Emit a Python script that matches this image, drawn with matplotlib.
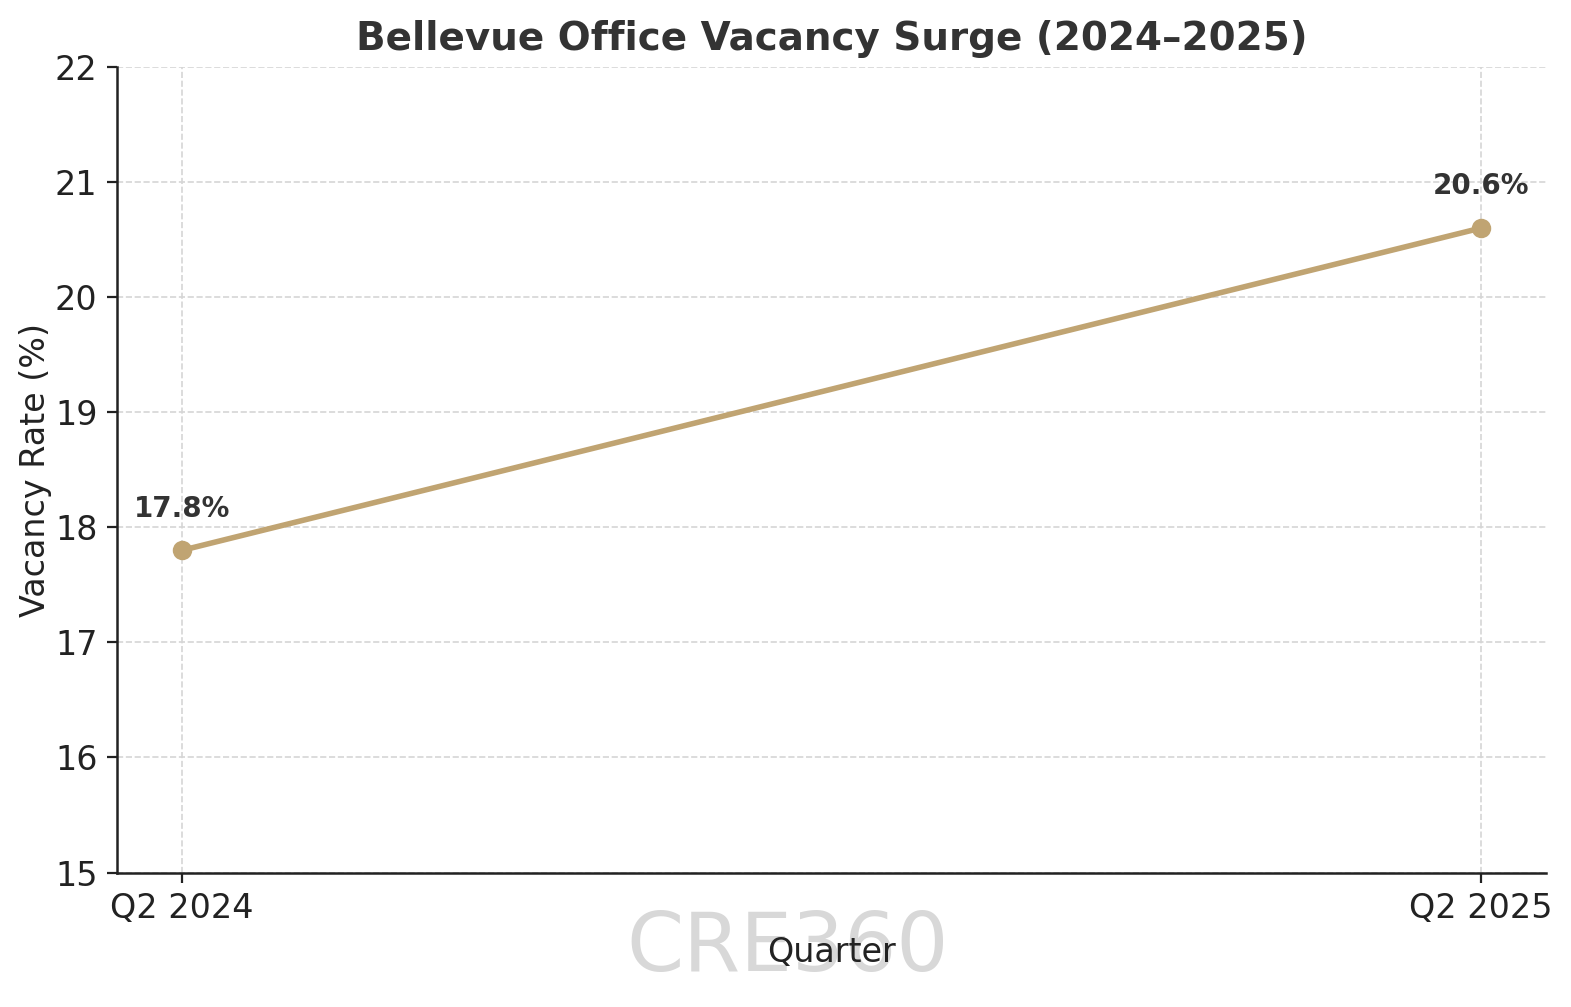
import matplotlib
matplotlib.use("Agg")
import matplotlib.pyplot as plt

quarters = ["Q2 2024", "Q2 2025"]
vacancy = [17.8, 20.6]
yticks = [15, 16, 17, 18, 19, 20, 21, 22]

fig = plt.figure(figsize=(7.855, 5.035), dpi=200)
ax = fig.add_axes([0.0745, 0.1335, 0.9095, 0.8]) 

x = list(range(len(quarters)))
ax.plot(x, vacancy, color="#C0A472", linewidth=2.0, marker="o", markersize=6, zorder=3)
for xi, v in zip(x, vacancy):
    ax.annotate(f"{v}%", (xi, v), xytext=(0, 10), textcoords="offset points",
                ha="center", va="bottom", fontsize=10, fontweight="bold", color="#333333")

ax.set_xticks(x)
ax.set_xticklabels(quarters)
ax.set_ylim(15, 22)
ax.set_yticks(yticks)
ax.tick_params(axis="both", labelsize=12, colors="#222222")
ax.grid(True, linestyle="--", color="#D5D5D5", linewidth=0.6)
ax.set_axisbelow(True)
for s in ["top", "right"]:
    ax.spines[s].set_visible(False)
for s in ["left", "bottom"]:
    ax.spines[s].set_color("#222222")
    ax.spines[s].set_linewidth(0.9)

ax.set_title("Bellevue Office Vacancy Surge (2024–2025)", fontsize=14, fontweight="bold",
             color="#333333", pad=6)
ax.set_xlabel("Quarter", fontsize=12, color="#222222")
ax.set_ylabel("Vacancy Rate (%)", fontsize=12, color="#222222", labelpad=1)

fig.text(0.5016, 0.058, "CRE360", fontsize=29.5, color="#D8D8D8", ha="center", va="center", zorder=-1)

fig.savefig("out.png", dpi=200)
